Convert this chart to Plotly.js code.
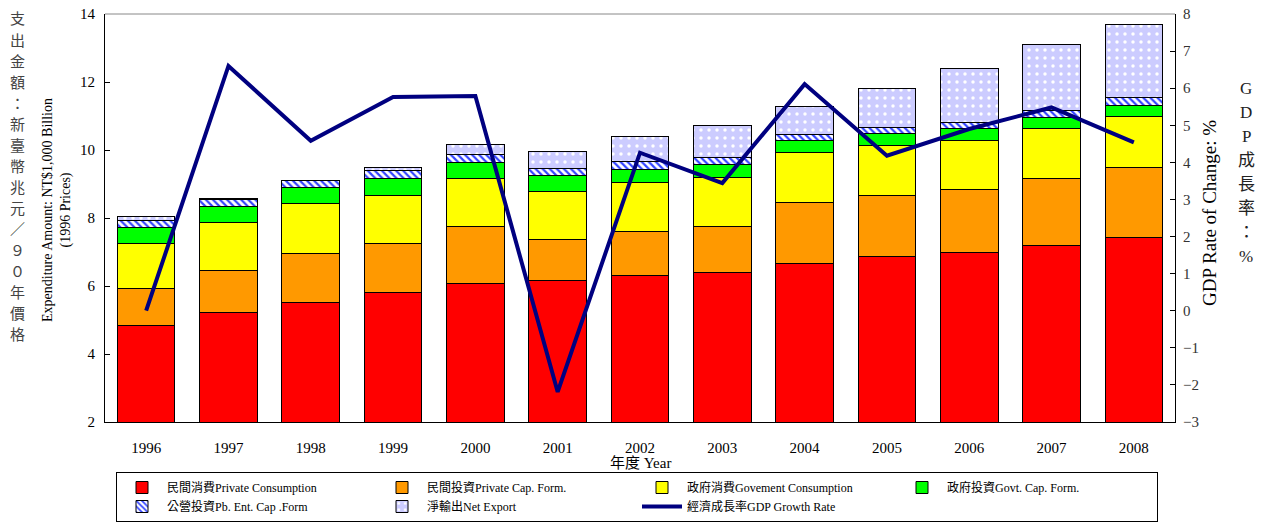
<!DOCTYPE html>
<html>
<head>
<meta charset="utf-8">
<script src="https://cdn.plot.ly/plotly-3.0.1.min.js"></script>
<style>html,body{margin:0;padding:0;background:#fff;}#chart{width:1261px;height:523px;}</style>
</head>
<body>
<div id="chart"></div>
<script>
const years = ['1996','1997','1998','1999','2000','2001','2002','2003','2004','2005','2006','2007','2008'];
const privateConsumption = [4.84, 5.21, 5.51, 5.80, 6.08, 6.15, 6.30, 6.39, 6.67, 6.86, 6.98, 7.20, 7.44];
const privateCapForm     = [1.08, 1.26, 1.44, 1.46, 1.68, 1.21, 1.31, 1.35, 1.80, 1.81, 1.87, 1.95, 2.04];
const govConsumption     = [1.33, 1.40, 1.47, 1.40, 1.41, 1.42, 1.42, 1.45, 1.45, 1.45, 1.44, 1.48, 1.52];
const govCapForm         = [0.48, 0.48, 0.48, 0.50, 0.47, 0.46, 0.39, 0.38, 0.36, 0.36, 0.34, 0.34, 0.30];
const pubEntCapForm      = [0.21, 0.19, 0.19, 0.24, 0.24, 0.21, 0.24, 0.21, 0.19, 0.19, 0.19, 0.19, 0.23];
const netExport          = [0.09, 0.03, 0.02, 0.10, 0.29, 0.52, 0.74, 0.93, 0.82, 1.13, 1.57, 1.94, 2.15];
const gdpGrowth          = [0.00, 6.60, 4.58, 5.76, 5.79, -2.19, 4.26, 3.44, 6.11, 4.18, 4.90, 5.48, 4.54];

const names = ['民間消費Private Consumption','民間投資Private Cap. Form.','政府消費Govement Consumption','政府投資Govt. Cap. Form.','公營投資Pb. Ent. Cap .Form','淨輸出Net Export','經濟成長率GDP Growth Rate'];
const leftTitleChars = ['支','出','金','額','：','新','臺','幣','兆','元','／','９','０','年','價','格'];
const rightTitleChars = ['G','D','P','成','長','率','：','%'];

const FONT = 'Liberation Serif, Times New Roman, Noto Sans CJK TC, serif';
const outline = {color:'#000', width:1};

function barTrace(y, name, color, pattern){
  const t = {type:'bar', x:years, y:y, name:name, marker:{color:color, line:outline}, hoverinfo:'y'};
  if (pattern) t.marker.pattern = pattern;
  return t;
}

const data = [
  barTrace(privateConsumption, names[0], '#ff0000'),
  barTrace(privateCapForm, names[1], '#ff9900'),
  barTrace(govConsumption, names[2], '#ffff00'),
  barTrace(govCapForm, names[3], '#00ff00'),
  barTrace(pubEntCapForm, names[4], '#ffffff', {shape:'\\', fgcolor:'#3344ff', bgcolor:'#ffffff', size:5, solidity:0.45}),
  barTrace(netExport, names[5], '#ccccff', {shape:'.', fgcolor:'#ffffff', bgcolor:'#ccccff', size:8, solidity:0.15}),
  {type:'scatter', mode:'lines', x:years, y:gdpGrowth, yaxis:'y2', name:names[6], line:{color:'#000080', width:4}}
];

// pixel helpers for plot area: top 14, bottom 422, left 105, right 1175
const py = p => (422 - p) / 408;
const px = p => (p - 105) / 1070;

const annotations = [];
leftTitleChars.forEach((c, i) => {
  annotations.push({xref:'paper', yref:'paper', x:px(17), y:py(18 + i * 21.05), xanchor:'center', yanchor:'middle', text:c, showarrow:false,
    font:{size:15, family:'Noto Sans CJK TC, serif', color:'#444'}});
});
rightTitleChars.forEach((c, i) => {
  annotations.push({xref:'paper', yref:'paper', x:px(1246), y:py(88 + i * 24.1), xanchor:'center', yanchor:'middle', text:c, showarrow:false,
    font:{size:17, family:'Liberation Serif, Noto Sans CJK TC, serif', color:'#222'}});
});
annotations.push(
  {xref:'paper', yref:'paper', x:px(57), y:py(210), xanchor:'center', yanchor:'middle', textangle:-90, text:'Expenditure Amount: NT$1,000 Billion<br>(1996 Prices)', showarrow:false, font:{size:14, family:FONT}},
  {xref:'paper', yref:'paper', x:px(1209), y:py(213), xanchor:'center', yanchor:'middle', textangle:-90, text:'GDP Rate of Change: %', showarrow:false, font:{size:19, family:FONT}},
  {xref:'paper', yref:'paper', x:0.5, y:py(463), xanchor:'center', yanchor:'middle', text:'年度 Year', showarrow:false, font:{size:15, family:FONT}}
);

const layout = {
  width:1261, height:523,
  margin:{l:105, r:86, t:14, b:101},
  paper_bgcolor:'#fff', plot_bgcolor:'#fff',
  font:{family:FONT, size:14, color:'#000'},
  barmode:'stack', bargap:0.3,
  showlegend:true,
  xaxis:{type:'category', range:[-0.5,12.5], showline:true, linecolor:'#000', linewidth:1, ticks:'', ticklabelstandoff:12, tickfont:{size:15, family:FONT}, fixedrange:true},
  yaxis:{range:[2,14], dtick:2, showline:true, linecolor:'#000', linewidth:1, ticks:'inside', ticklen:5, tickcolor:'#000', ticklabelstandoff:6, showgrid:false, zeroline:false, tickfont:{size:15, family:FONT}},
  yaxis2:{overlaying:'y', side:'right', range:[-3,8], dtick:1, showline:true, linecolor:'#000', linewidth:1, ticks:'inside', ticklen:5, tickcolor:'#000', ticklabelstandoff:4, showgrid:false, zeroline:false, tickfont:{size:15, family:FONT, color:'#333'}},
  shapes:[{type:'line', xref:'paper', yref:'paper', x0:0, x1:1, y0:1, y1:1, line:{color:'#888', width:1}}],
  legend:{orientation:'h', xref:'container', x:116/1261, xanchor:'left', yref:'container', y:1/523, yanchor:'bottom', bordercolor:'#000', borderwidth:1, bgcolor:'#fff',
          entrywidth:205, entrywidthmode:'pixels', traceorder:'normal', font:{size:12, family:FONT}, itemwidth:40, tracegroupgap:0},
  annotations:annotations
};

Plotly.newPlot('chart', data, layout, {displayModeBar:false, staticPlot:true});
</script>
</body>
</html>
